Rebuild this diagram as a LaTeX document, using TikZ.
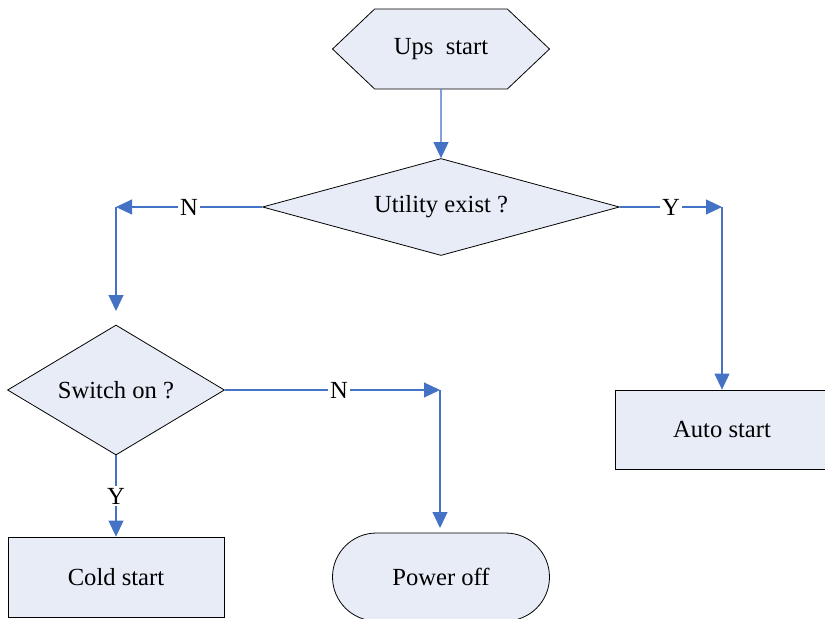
\documentclass[tikz,border=0pt]{standalone}
\usepackage{fontspec}
\setmainfont{Liberation Serif}
\usepackage{tikz}
\usetikzlibrary{shapes.geometric, shapes.symbols, arrows.meta, positioning}

\definecolor{flowblue}{RGB}{68,114,196}
\definecolor{flowfill}{RGB}{231,236,246}

\begin{document}
\begin{tikzpicture}[
    base/.style={draw, line width=0.45pt, fill=flowfill, align=center, inner sep=2pt, font=\fontsize{14}{16}\selectfont},
    hexa/.style={base, signal, signal to=west and east, signal pointer angle=87, minimum width=4.34cm, minimum height=1.6cm},
    decide/.style={base, diamond},
    box/.style={base, rectangle},
    stop/.style={base, rectangle, rounded corners=0.88cm, minimum width=4.34cm, minimum height=1.76cm},
    arrow/.style={-{Triangle[length=0.32cm, width=0.3cm]}, draw=flowblue, fill=flowblue, line width=0.6pt},
    lbl/.style={fill=white, inner sep=1pt, font=\fontsize{14}{16}\selectfont}
]
    \useasboundingbox (0,0) rectangle (16.5,-12.38);

    \node[hexa] (ups) at (8.82,-0.98) {Ups\ \ start};
    \node[decide, aspect=3.7, minimum width=7.14cm, minimum height=1.94cm] (util) at (8.82,-4.14) {Utility exist ?};
    \node[decide, aspect=1.67, minimum width=4.34cm, minimum height=2.6cm] (sw) at (2.32,-7.8) {Switch on ?};
    \node[box, minimum width=4.28cm, minimum height=1.58cm] (auto) at (14.44,-8.59) {Auto start};
    \node[box, minimum width=4.32cm, minimum height=1.6cm] (cold) at (2.32,-11.54) {Cold start};
    \node[stop] (off) at (8.82,-11.54) {Power off};

    \coordinate (nl) at (2.32,-4.14);
    \coordinate (nld) at (2.32,-6.22);
    \coordinate (yr) at (14.44,-4.14);
    \coordinate (nr) at (8.8,-7.8);
    \coordinate (nrd) at (8.8,-10.56);

    \draw[arrow] (ups) -- (util);
    \draw[arrow] (util.west) -- node[lbl] {N} (nl);
    \draw[arrow] (nl) -- (nld);
    \draw[arrow] (util.east) -- node[lbl] {Y} (yr);
    \draw[arrow] (yr) -- (auto.north);
    \draw[arrow] (sw.east) -- node[lbl, pos=0.53] {N} (nr);
    \draw[arrow] (nr) -- (nrd);
    \draw[arrow] (sw.south) -- node[lbl] {Y} (cold.north);
\end{tikzpicture}
\end{document}
